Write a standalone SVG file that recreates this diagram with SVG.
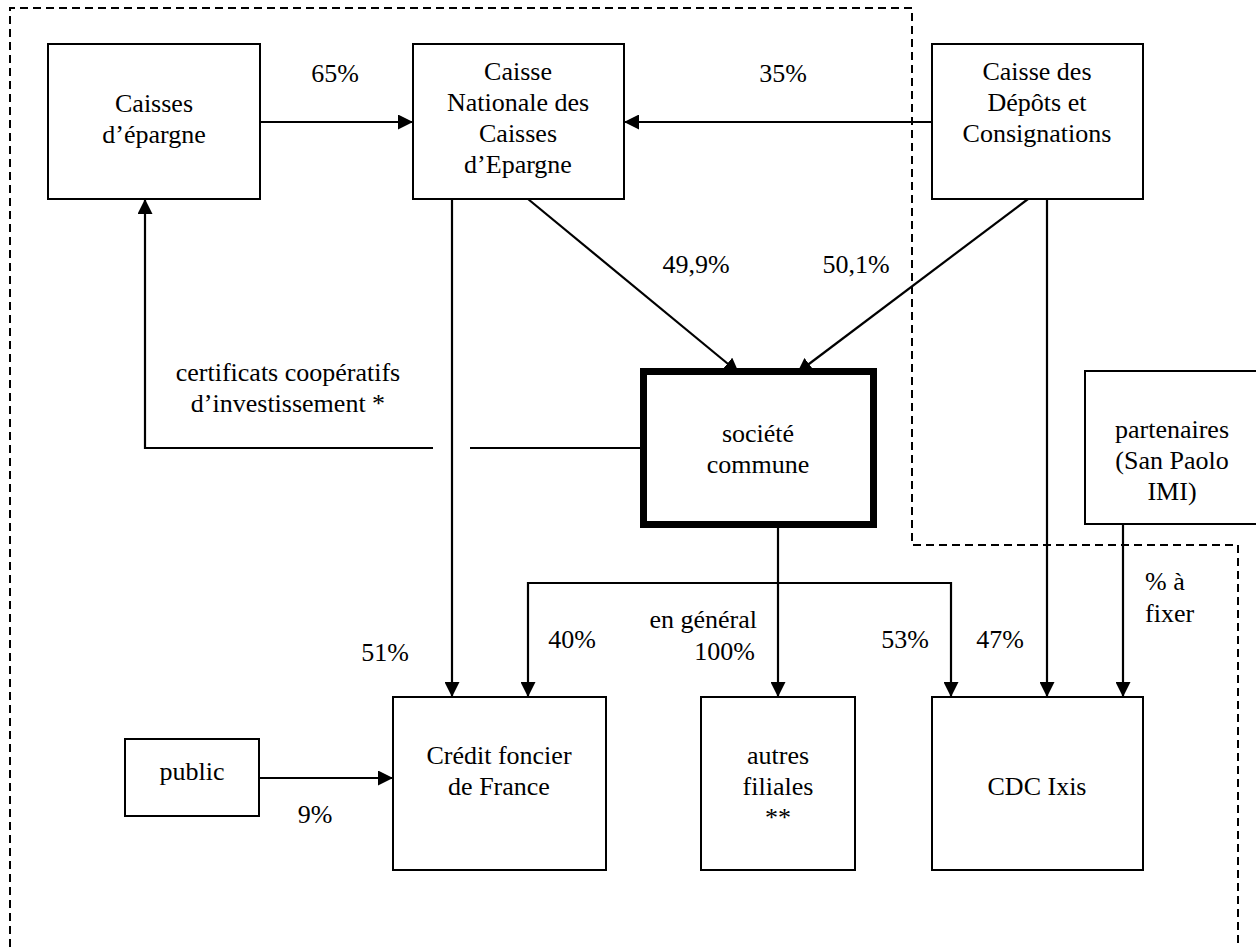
<svg xmlns="http://www.w3.org/2000/svg" width="1256" height="947" viewBox="0 0 1256 947">
<style>
text{font-family:'Liberation Serif','Tinos','DejaVu Serif',serif;font-size:26px;fill:#000;text-anchor:middle}
.box{fill:#fff;stroke:#000;stroke-width:2}
.thick{fill:#fff;stroke:#000;stroke-width:7}
.c{fill:none;stroke:#000;stroke-width:2.2}
.dash{fill:none;stroke:#000;stroke-width:2;stroke-dasharray:8 5}
.st{text-anchor:start}
.en{text-anchor:end}
</style>
<defs>
<marker id="ah" markerUnits="userSpaceOnUse" markerWidth="15" markerHeight="15" refX="15" refY="7.5" orient="auto">
<path d="M0,0 L15,7.5 L0,15 z" fill="#000"/>
</marker>
</defs>
<rect width="1256" height="947" fill="#fff"/>
<path class="dash" d="M10,947 L10,8 L912,8 L912,545 L1238,545 L1238,947"/>
<g id="connectors">
<path class="c" d="M260,122 L413,122" marker-end="url(#ah)"/>
<path class="c" d="M932,122 L624,122" marker-end="url(#ah)"/>
<path class="c" d="M452,199 L452,697" marker-end="url(#ah)"/>
<path class="c" d="M528,199 L739,373" marker-end="url(#ah)"/>
<path class="c" d="M1028,199 L797,373" marker-end="url(#ah)"/>
<path class="c" d="M1047,199 L1047,697" marker-end="url(#ah)"/>
<path class="c" d="M778,528 L778,697" marker-end="url(#ah)"/>
<path class="c" d="M778,583 L528,583 L528,697" marker-end="url(#ah)"/>
<path class="c" d="M778,583 L951,583 L951,697" marker-end="url(#ah)"/>
<path class="c" d="M1123,524 L1123,697" marker-end="url(#ah)"/>
<path class="c" d="M259,778 L393,778" marker-end="url(#ah)"/>
<path class="c" d="M640,448 L470,448"/>
<path class="c" d="M433,448 L145,448 L145,199" marker-end="url(#ah)"/>
</g>
<g font-family="Liberation Serif, serif" font-size="26">
<g id="caisses-epargne">
<rect class="box" x="48" y="44" width="212" height="155"/>
<text x="154" y="112">Caisses</text>
<text x="154" y="143">d’épargne</text>
</g>
<g id="cnce">
<rect class="box" x="413" y="44" width="211" height="155"/>
<text x="518" y="80">Caisse</text>
<text x="518" y="111">Nationale des</text>
<text x="518" y="142">Caisses</text>
<text x="518" y="173">d’Epargne</text>
</g>
<g id="cdc">
<rect class="box" x="932" y="44" width="211" height="155"/>
<text x="1037" y="80">Caisse des</text>
<text x="1037" y="111">Dépôts et</text>
<text x="1037" y="142">Consignations</text>
</g>
<g id="societe-commune">
<rect class="thick" x="643.5" y="371.5" width="230" height="153"/>
<text x="758" y="442">société</text>
<text x="758" y="473">commune</text>
</g>
<g id="partenaires">
<rect class="box" x="1085" y="371" width="174" height="153"/>
<text x="1172" y="438">partenaires</text>
<text x="1172" y="469">(San Paolo</text>
<text x="1172" y="500">IMI)</text>
</g>
<g id="public">
<rect class="box" x="125" y="739" width="134" height="77"/>
<text x="192" y="780">public</text>
</g>
<g id="credit-foncier">
<rect class="box" x="393" y="697" width="213" height="173"/>
<text x="499" y="764">Crédit foncier</text>
<text x="499" y="795">de France</text>
</g>
<g id="autres-filiales">
<rect class="box" x="701" y="697" width="154" height="173"/>
<text x="778" y="764">autres</text>
<text x="778" y="795">filiales</text>
<text x="778" y="826">**</text>
</g>
<g id="cdc-ixis">
<rect class="box" x="932" y="697" width="211" height="173"/>
<text x="1037" y="795">CDC Ixis</text>
</g>
<g id="labels">
<text x="335" y="82">65%</text>
<text x="783" y="82">35%</text>
<text x="696" y="273">49,9%</text>
<text x="856" y="273">50,1%</text>
<text x="288" y="381">certificats coopératifs</text>
<text x="288" y="412">d’investissement *</text>
<text x="385" y="661">51%</text>
<text x="572" y="648">40%</text>
<text class="en" x="757" y="628">en général</text>
<text class="en" x="755" y="660">100%</text>
<text x="905" y="648">53%</text>
<text x="1000" y="648">47%</text>
<text class="st" x="1145" y="590">% à</text>
<text class="st" x="1145" y="622">fixer</text>
<text x="315" y="823">9%</text>
</g>
</g>
</svg>
